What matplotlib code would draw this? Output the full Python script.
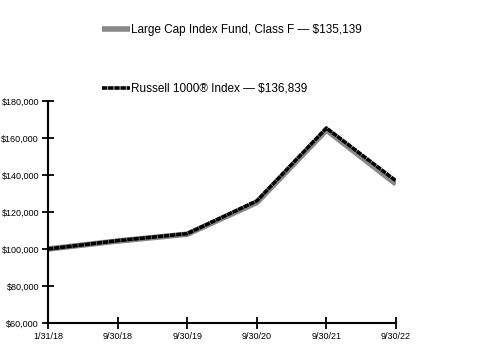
import matplotlib
matplotlib.use('Agg')
import matplotlib.pyplot as plt
from matplotlib.ticker import FuncFormatter

plt.rcParams['font.family'] = ['Liberation Sans', 'DejaVu Sans']

# fechas y valores
fechas = ['1/31/18', '9/30/18', '9/30/19', '9/30/20', '9/30/21', '9/30/22']
fondo = [100000, 104300, 108000, 125100, 164300, 135139]
indice = [100000, 104500, 108300, 126000, 165400, 136839]

fig = plt.figure(figsize=(4.8, 3.6), dpi=100)
ax = fig.add_axes([0.1, 0.1028, 0.725, 0.6166])

x = range(len(fechas))
ax.plot(x, fondo, color='#888888', lw=4, solid_capstyle='butt',
        label='Large Cap Index Fund, Class F \u2014 $135,139')
ax.plot(x, indice, color='black', lw=2.6, linestyle=(0, (1.5, 0.2)),
        label='Russell 1000\u00ae Index \u2014 $136,839')

ax.set_xlim(0, 5)
ax.set_ylim(60000, 180000)
ax.set_xticks(list(x))
ax.set_xticklabels(fechas)
ax.set_yticks(range(60000, 180001, 20000))
ax.yaxis.set_major_formatter(FuncFormatter(lambda v, p: '${:,.0f}'.format(v)))

for s in ['top', 'right']:
    ax.spines[s].set_visible(False)
for s in ['left', 'bottom']:
    ax.spines[s].set_linewidth(1.5)
ax.tick_params(axis='both', direction='inout', length=9, width=1.3, labelsize=6.5, pad=2)

fig.legend(loc='upper left', bbox_to_anchor=(0.19, 0.962), frameon=False,
           fontsize=8.5, labelspacing=3.95, handlelength=2.4, handletextpad=0.1)

fig.savefig('out.png', dpi=100)
